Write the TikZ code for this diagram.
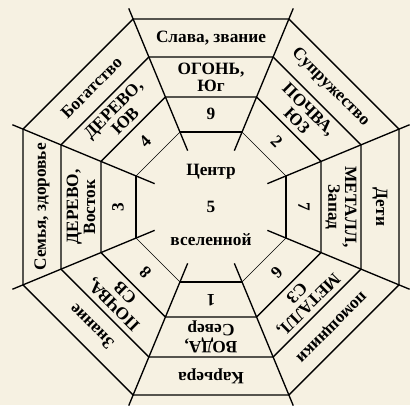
\documentclass[tikz,border=0pt]{standalone}
\usepackage{fontspec}
\setmainfont{Liberation Serif}
\usepackage{xcolor}
\usepackage{tikz}
\usetikzlibrary{positioning}
\definecolor{paper}{RGB}{246,241,226}

\begin{document}
\begin{tikzpicture}[x=0.25mm, y=0.25mm,
    ring/.style={draw=black, line width=0.95pt},
    thinring/.style={draw=black, line width=0.35pt},
    sector/.style={font=\bfseries\fontsize{12.3}{12}\selectfont, align=center, inner sep=1pt}]

    \fill [paper] (-211,-198) rectangle (199,207);
    \useasboundingbox (-211,-198) rectangle (199,207);

    \foreach \a in {188,150,110} {
        \pgfmathsetmacro{\r}{\a/cos(22.5)}
        \draw [ring] (22.5:\r) \foreach \k in {1,...,7} { -- (22.5+45*\k:\r) } -- cycle;
    }
    \foreach \c in {0,90,180,270}
        \draw [ring] (\c-22.5:81.2) -- (\c+22.5:81.2);
    \foreach \c in {45,135,225,315}
        \draw [thinring] (\c-22.5:81.2) -- (\c+22.5:81.2);
    \foreach \k in {0,...,7}
        \draw [ring] (22.5+45*\k:61) -- (22.5+45*\k:215);

    \node [sector] (num5) at (0,0) {5};
    \node [sector] (centr) at (0,35) {Центр};
    \node [sector] (vselen) at (0,-33) {вселенной};

    \node [sector] (slava) at (90:169) {Слава, звание};
    \node [sector] (ogon) at (90:130) {ОГОНЬ,\\Юг};
    \node [sector] (num9) at (90:93) {9};

    \node [sector, rotate=-45] (suprug) at (45:169) {Супружество};
    \node [sector, rotate=-45] (pochvaSW) at (45:130) {ПОЧВА,\\ЮЗ};
    \node [sector, rotate=-45] (num2) at (45:93) {2};

    \node [sector, rotate=-90] (deti) at (0:169) {Дети};
    \node [sector, rotate=-90] (metallW) at (0:130) {МЕТАЛЛ,\\Запад};
    \node [sector, rotate=-90] (num7) at (0:93) {7};

    \node [sector, rotate=-135] (pomosh) at (-45:169) {помощники};
    \node [sector, rotate=-135] (metallNW) at (-45:130) {МЕТАЛЛ,\\СЗ};
    \node [sector, rotate=-135] (num6) at (-45:93) {6};

    \node [sector, rotate=180] (kariera) at (-90:169) {Карьера};
    \node [sector, rotate=180] (voda) at (-90:130) {ВОДА,\\Север};
    \node [sector, rotate=180] (num1) at (-90:93) {1};

    \node [sector, rotate=135] (znanie) at (-135:169) {Знание};
    \node [sector, rotate=135] (pochvaNE) at (-135:130) {ПОЧВА,\\СВ};
    \node [sector, rotate=135] (num8) at (-135:93) {8};

    \node [sector, rotate=90] (semya) at (180:169) {Семья, здоровье};
    \node [sector, rotate=90] (derevoE) at (180:130) {ДЕРЕВО,\\Восток};
    \node [sector, rotate=90] (num3) at (180:93) {3};

    \node [sector, rotate=45] (bogatstvo) at (135:169) {Богатство};
    \node [sector, rotate=45] (derevoSE) at (135:130) {ДЕРЕВО,\\ЮВ};
    \node [sector, rotate=45] (num4) at (135:93) {4};
\end{tikzpicture}
\end{document}
